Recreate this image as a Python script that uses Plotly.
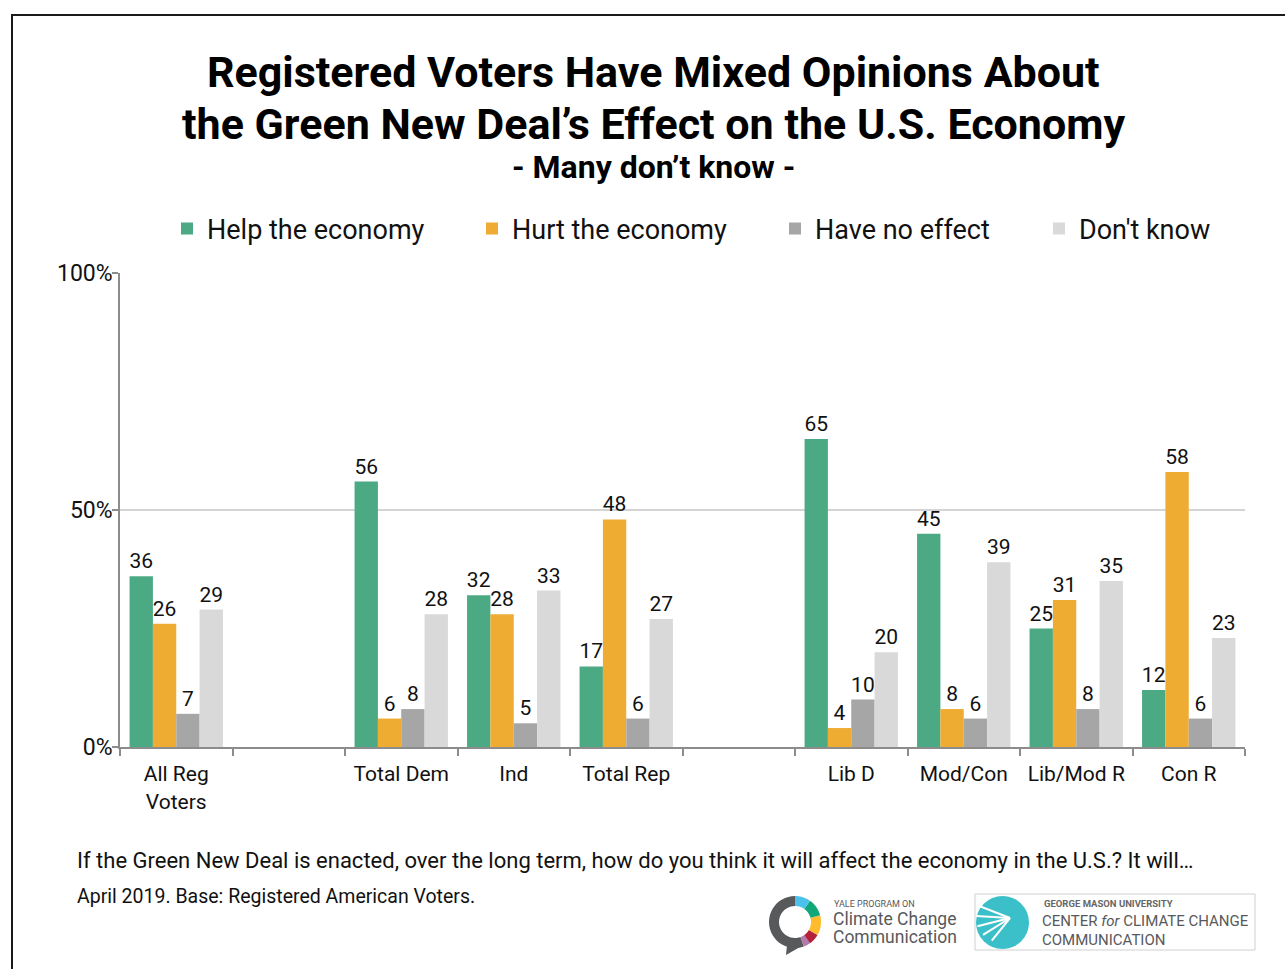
import math
import plotly.graph_objects as go

# ---------------- data ----------------
categories = ["All Reg<br>Voters", " ", "Total Dem", "Ind", "Total Rep", "  ",
              "Lib D", "Mod/Con", "Lib/Mod R", "Con R"]
help_economy = [36, None, 56, 32, 17, None, 65, 45, 25, 12]
hurt_economy = [26, None, 6, 28, 48, None, 4, 8, 31, 58]
no_effect = [7, None, 8, 5, 6, None, 10, 6, 8, 6]
dont_know = [29, None, 28, 33, 27, None, 20, 39, 35, 23]
series_names = ["Help the economy", "Hurt the economy", "Have no effect", "Don't know"]
series_values = [help_economy, hurt_economy, no_effect, dont_know]
series_colors = ["#4BAA84", "#EEAD32", "#A6A6A6", "#D9D9D9"]
ytick_vals = [0, 50, 100]
ytick_text = ["0%", "50%", "100%"]

W, H = 1285, 969
L, R, T, B = 120, 1245, 273, 747


def X(px):
    return (px - L) / (R - L)


def Y(py):
    return (B - py) / (B - T)


FONT = "Roboto"
fig = go.Figure()
legend_names = ["legend", "legend2", "legend3", "legend4"]
legend_x = [167, 472, 775, 1039]
for name, vals, col, lg in zip(series_names, series_values, series_colors, legend_names):
    fig.add_trace(go.Bar(
        name=name, x=categories, y=vals, marker_color=col, marker_line_width=0,
        text=[("" if v is None else str(v)) for v in vals], textposition="outside",
        textfont=dict(size=21, color="#111111", family=FONT),
        constraintext="none", cliponaxis=False, legend=lg,
        hoverinfo="skip",
    ))

layout_legends = {}
for lg, lx in zip(legend_names, legend_x):
    layout_legends[lg] = dict(
        x=X(lx), y=Y(229), xanchor="left", yanchor="middle",
        orientation="h", font=dict(size=27, family=FONT, color="#111111"),
        bgcolor="rgba(0,0,0,0)", borderwidth=0, itemwidth=30,
    )

fig.update_layout(
    width=W, height=H,
    margin=dict(l=L, r=W - R, t=T, b=H - B, pad=0),
    paper_bgcolor="white", plot_bgcolor="white",
    barmode="group", bargap=0.17, bargroupgap=0,
    font=dict(family=FONT, color="#111111"),
    showlegend=True,
    **layout_legends,
)

fig.update_xaxes(
    type="category", categoryorder="array", categoryarray=categories,
    tickson="boundaries", ticks="outside", ticklen=7, tickwidth=2, tickcolor="#8C8C8C",
    showline=True, linecolor="#8C8C8C", linewidth=2, showgrid=False,
    tickfont=dict(size=21, family=FONT, color="#111111"), range=[-0.5, 9.5],
    ticklabelstandoff=7,
)
fig.update_yaxes(
    range=[0, 100], tickvals=ytick_vals, ticktext=ytick_text,
    ticks="outside", ticklen=6, tickwidth=1.5, tickcolor="#8C8C8C",
    showline=True, linecolor="#8C8C8C", linewidth=1.5,
    showgrid=True, gridcolor="#D4D4D4", gridwidth=1.5, zeroline=False,
    tickfont=dict(size=23, family=FONT, color="#111111"), ticklabelstandoff=-5,
)

ann = []
# title
ann.append(dict(x=X(653), y=Y(72), xref="paper", yref="paper", showarrow=False,
                text="<b>Registered Voters Have Mixed Opinions About</b>",
                font=dict(size=43, family=FONT, color="#000000"), xanchor="center", yanchor="middle"))
ann.append(dict(x=X(653), y=Y(124), xref="paper", yref="paper", showarrow=False,
                text="<b>the Green New Deal\u2019s Effect on the U.S. Economy</b>",
                font=dict(size=43, family=FONT, color="#000000"), xanchor="center", yanchor="middle"))
ann.append(dict(x=X(653), y=Y(167), xref="paper", yref="paper", showarrow=False,
                text="<b>- Many don\u2019t know -</b>",
                font=dict(size=32, family=FONT, color="#000000"), xanchor="center", yanchor="middle"))
# footer
ann.append(dict(x=X(75), y=Y(860), xref="paper", yref="paper", showarrow=False,
                text="If the Green New Deal is enacted, over the long term, how do you think it will affect the economy in the U.S.? It will\u2026",
                font=dict(size=22, family=FONT, color="#111111"), xanchor="left", yanchor="middle"))
ann.append(dict(x=X(75), y=Y(896), xref="paper", yref="paper", showarrow=False,
                text="April 2019. Base: Registered American Voters.",
                font=dict(size=19.5, family=FONT, color="#111111"), xanchor="left", yanchor="middle"))
# Yale logo text
ann.append(dict(x=X(832), y=Y(904), xref="paper", yref="paper", showarrow=False,
                text="YALE PROGRAM ON", font=dict(size=9, family=FONT, color="#58595B"),
                xanchor="left", yanchor="middle"))
ann.append(dict(x=X(831), y=Y(919), xref="paper", yref="paper", showarrow=False,
                text="Climate Change", font=dict(size=17.5, family=FONT, color="#58595B"),
                xanchor="left", yanchor="middle"))
ann.append(dict(x=X(831), y=Y(937), xref="paper", yref="paper", showarrow=False,
                text="Communication", font=dict(size=17.5, family=FONT, color="#58595B"),
                xanchor="left", yanchor="middle"))
# GMU logo text
ann.append(dict(x=X(1042), y=Y(903), xref="paper", yref="paper", showarrow=False,
                text="<b>GEORGE MASON UNIVERSITY</b>", font=dict(size=9.5, family=FONT, color="#666666"),
                xanchor="left", yanchor="middle"))
ann.append(dict(x=X(1040), y=Y(921), xref="paper", yref="paper", showarrow=False,
                text="CENTER <i>for</i> CLIMATE CHANGE", font=dict(size=15, family=FONT, color="#58595B"),
                xanchor="left", yanchor="middle"))
ann.append(dict(x=X(1040), y=Y(940), xref="paper", yref="paper", showarrow=False,
                text="COMMUNICATION", font=dict(size=15, family=FONT, color="#58595B"),
                xanchor="left", yanchor="middle"))

shapes = []
# outer frame (cut off at right and bottom)
shapes.append(dict(type="path", xref="paper", yref="paper",
                   path=f"M {X(12)},{Y(980)} L {X(12)},{Y(15)} L {X(1295)},{Y(15)}",
                   line=dict(color="#1A1A1A", width=2)))


def arc_path(cx, cy, r_out, r_in, a0, a1, n=24):
    pts = []
    for i in range(n + 1):
        a = math.radians(a0 + (a1 - a0) * i / n)
        pts.append((cx + r_out * math.cos(a), cy - r_out * math.sin(a)))
    for i in range(n, -1, -1):
        a = math.radians(a0 + (a1 - a0) * i / n)
        pts.append((cx + r_in * math.cos(a), cy - r_in * math.sin(a)))
    return "M " + " L ".join(f"{X(px)},{Y(py)}" for px, py in pts) + " Z"


# Yale logo ring
cx, cy = 795, 922
segs = [(90, 270, "#58595B"), (270, 290, "#58595B"), (290, 305, "#B07AAE"), (305, 330, "#B5203A"),
        (330, 375, "#FDBB2D"), (15, 55, "#12A77A"), (55, 90, "#4CC1EC")]
for a0, a1, col in segs:
    shapes.append(dict(type="path", xref="paper", yref="paper", path=arc_path(cx, cy, 26, 16, a0, a1),
                       fillcolor=col, line=dict(width=0)))
# speech tail
shapes.append(dict(type="path", xref="paper", yref="paper",
                   path=f"M {X(787)},{Y(945)} L {X(786)},{Y(955)} L {X(800)},{Y(947)} Z",
                   fillcolor="#58595B", line=dict(width=0)))

# GMU logo box and circle
shapes.append(dict(type="rect", xref="paper", yref="paper", x0=X(975), x1=X(1255), y0=Y(950), y1=Y(894),
                   line=dict(color="#D0D0D0", width=1), fillcolor="white"))
shapes.append(dict(type="circle", xref="paper", yref="paper", x0=X(976), x1=X(1029), y0=Y(949), y1=Y(896),
                   fillcolor="#3BBFC9", line=dict(width=0)))
for ang in [150, 175, 200, 225, 250]:
    a = math.radians(ang)
    x2, y2 = 1000 + 24 * math.cos(a), 918 - 24 * math.sin(a)
    shapes.append(dict(type="line", xref="paper", yref="paper", x0=X(1010), y0=Y(918), x1=X(x2), y1=Y(y2),
                       line=dict(color="white", width=2)))

fig.update_layout(annotations=ann, shapes=shapes)
fig.write_html("out.html", config={"displayModeBar": False},
               post_script="document.body.style.margin='0px';")
